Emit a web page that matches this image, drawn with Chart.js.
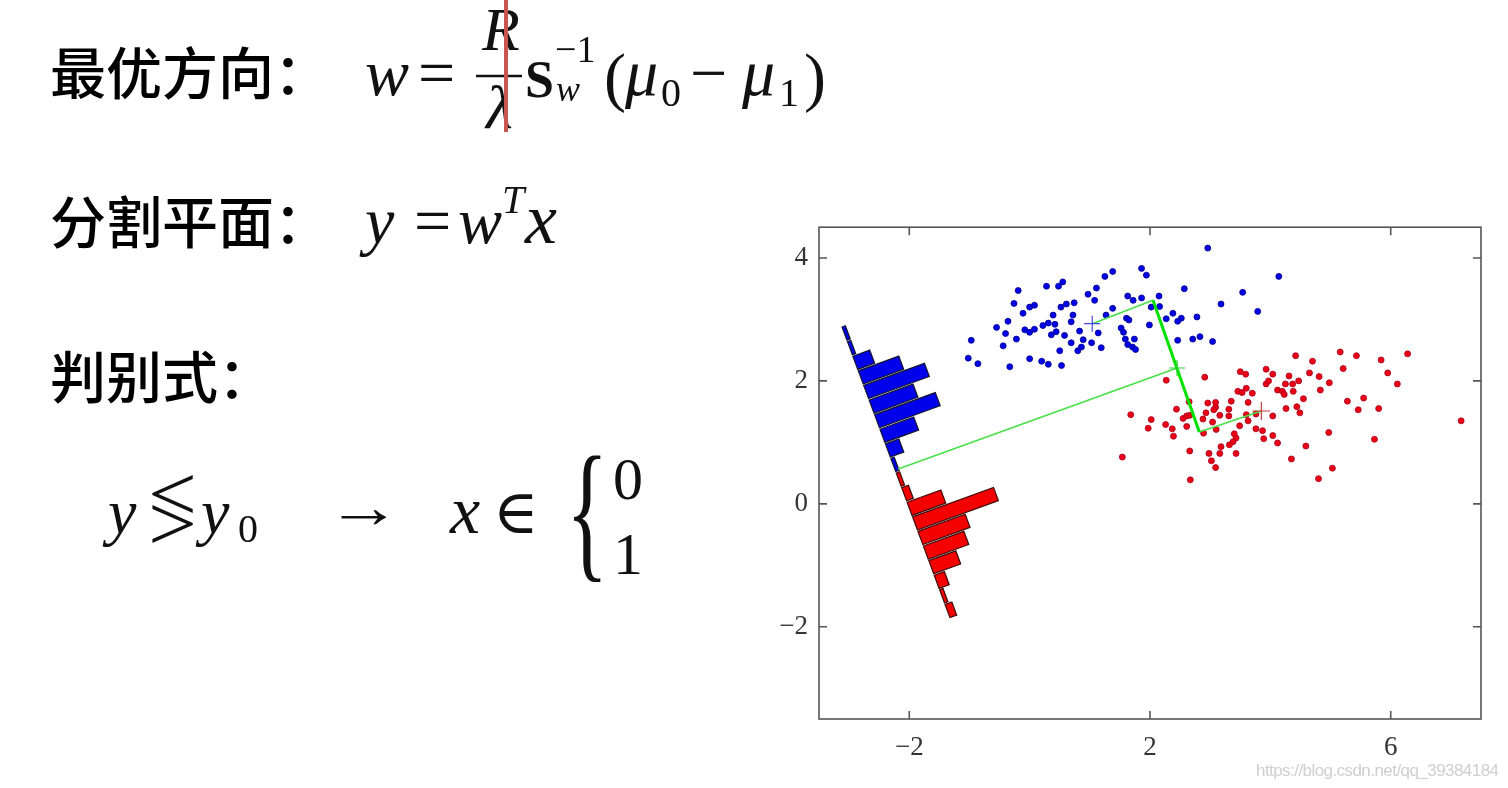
<!DOCTYPE html>
<html><head><meta charset="utf-8">
<script src="https://cdn.jsdelivr.net/npm/chart.js@4.4.0/dist/chart.umd.min.js"></script>
<style>
html,body{margin:0;padding:0;background:#fff;width:1508px;height:788px;overflow:hidden;}
#wrap{position:absolute;left:740px;top:200px;width:760px;height:588px;}
#txt{position:absolute;left:0;top:0;pointer-events:none;}
</style></head><body>
<div id="wrap"><canvas id="c" width="760" height="588"></canvas></div>
<svg id="txt" width="1508" height="788" xmlns="http://www.w3.org/2000/svg">
 <g font-family="'Noto Sans CJK SC'" font-size="56" font-weight="500" fill="#000">
  <text x="50" y="94">最优方向：</text>
  <text x="50" y="243">分割平面：</text>
  <text x="50" y="398">判别式：</text>
 </g>
 <g font-family="'Liberation Serif','DejaVu Serif',serif" fill="#111">
  <text x="365" y="95" font-size="66" font-style="italic">w</text>
  <text x="418" y="95" font-size="66">=</text>
  <text x="482" y="50" font-size="62" font-style="italic">R</text>
  <line x1="476" y1="76" x2="522" y2="76" stroke="#111" stroke-width="2.5"/>
  <text x="486" y="128" font-size="62" font-style="italic">λ</text>
  <rect x="504" y="0" width="4" height="132" fill="rgb(200,85,80)"/>
  <text x="525" y="97" font-size="52" font-weight="bold">S</text>
  <text x="555" y="62" font-size="38">−1</text>
  <text x="556" y="101" font-size="36" font-style="italic">w</text>
  <text x="604" y="99" font-size="66">(</text>
  <text x="625" y="95" font-size="66" font-style="italic">μ</text>
  <text x="661" y="106" font-size="40">0</text>
  <text x="690" y="95" font-size="66">−</text>
  <text x="742" y="95" font-size="66" font-style="italic">μ</text>
  <text x="779" y="106" font-size="40">1</text>
  <text x="804" y="99" font-size="66">)</text>

  <text x="365" y="243" font-size="66" font-style="italic">y</text>
  <text x="414" y="243" font-size="66">=</text>
  <text x="458" y="243" font-size="66" font-style="italic">w</text>
  <text x="502" y="213" font-size="40" font-style="italic">T</text>
  <text x="525" y="243" font-size="72" font-style="italic">x</text>

  <text x="108" y="533" font-size="64" font-style="italic">y</text>
  <text transform="translate(148,520) scale(1.4,1.25)" font-size="62">&lt;</text>
  <text transform="translate(148,550) scale(1.4,1.25)" font-size="62">&gt;</text>
  <text x="201" y="533" font-size="64" font-style="italic">y</text>
  <text x="238" y="542" font-size="40">0</text>
  <text transform="translate(326,527) scale(1.25,1)" font-size="60">→</text>
  <text x="450" y="533" font-size="68" font-style="italic">x</text>
  <text x="493" y="533" font-size="62">∈</text>
  <text transform="translate(566,562) scale(0.58,1)" font-size="152">{</text>
  <text x="613" y="499" font-size="60">0</text>
  <text x="613" y="574" font-size="60">1</text>
 </g>
 <text x="1256" y="776" font-family="'Liberation Sans',sans-serif" font-size="17" fill="#cfcfcf" textLength="243">https://blog.csdn.net/qq_39384184</text>
</svg>
<script>
// ---- axis ticks ----
const xTickValues = [-2, 2, 6];
const xTickLabels = ['−2', '2', '6'];
const yTickValues = [-2, 0, 2, 4];
const yTickLabels = ['−2', '0', '2', '4'];

// ---- class 0 (blue) samples ----
const blueX = [1.38,1.25,0.55,0.48,0.28,-0.19,1.11,0.97,1.08,1.63,-0.26,0.08,0.00,0.61,0.52,0.74,-0.11,0.39,0.72,1.27,
 1.38,-0.36,-0.55,-0.40,-0.08,0.00,0.08,0.22,0.31,0.42,0.69,0.36,0.44,0.58,0.83,1.14,-0.22,-0.97,-0.44,0.69,
 0.89,1.03,0.86,1.19,0.80,0.50,-1.02,-0.86,0.00,0.20,0.31,0.53,-0.33,
 2.96,1.86,1.94,4.14,2.57,3.54,1.72,1.86,2.15,2.02,2.16,3.18,3.79,2.38,2.27,2.52,2.46,2.78,1.61,1.65,
 1.99,1.52,1.56,1.59,1.74,1.63,1.71,1.76,2.46,2.71,2.83,3.04];
const blueY = [3.78,3.70,3.61,3.54,3.54,3.47,3.51,3.41,3.31,3.38,3.26,3.23,3.20,3.25,3.20,3.27,3.10,3.07,3.07,3.07,
 3.18,2.97,2.87,2.77,2.83,2.79,2.84,2.90,2.94,2.92,2.96,2.75,2.80,2.74,2.81,2.78,2.68,2.66,2.57,2.62,
 2.67,2.62,2.55,2.54,2.49,2.49,2.37,2.28,2.36,2.32,2.27,2.25,2.23,
 4.16,3.83,3.72,3.70,3.50,3.44,3.31,3.35,3.38,3.20,3.21,3.25,3.13,3.10,3.01,3.02,2.97,3.04,3.02,2.99,
 2.91,2.86,2.79,2.68,2.68,2.59,2.55,2.51,2.66,2.68,2.72,2.64];

// ---- class 1 (red) samples ----
const redX = [2.91,2.27,3.50,3.59,3.93,4.04,3.93,3.97,4.12,3.46,3.53,3.60,3.70,2.96,3.09,3.09,3.06,3.35,3.63,3.31,
 2.65,2.44,2.93,3.16,3.31,3.60,3.76,4.04,1.68,2.02,2.55,2.61,2.66,2.88,3.04,3.49,3.63,1.97,2.26,2.37,
 2.61,2.89,3.10,3.76,3.87,2.39,3.40,3.43,3.89,4.04,3.38,3.32,4.12,3.18,2.98,3.16,3.43,3.02,3.09,2.66,
 1.54,2.67,
 4.42,4.70,5.16,5.43,5.84,6.28,4.65,4.31,4.81,5.21,5.95,4.25,4.37,4.47,4.98,4.20,4.23,4.38,4.83,6.11,
 4.55,5.28,5.55,4.26,4.44,4.49,5.46,5.80,7.17,4.97,5.73,4.59,4.35,5.03,4.80];
const redY = [2.06,2.01,2.15,2.11,2.19,2.11,1.95,2.00,1.85,1.83,1.81,1.88,1.80,1.64,1.65,1.57,1.53,1.67,1.65,1.54,
 1.66,1.54,1.48,1.44,1.43,1.45,1.46,1.43,1.45,1.37,1.39,1.43,1.44,1.38,1.33,1.27,1.35,1.23,1.29,1.22,
 1.26,1.15,1.21,1.22,1.19,1.10,1.14,1.07,1.06,1.11,1.01,0.96,0.99,0.93,0.82,0.82,0.82,0.70,0.59,0.86,
 0.76,0.39,
 2.41,2.32,2.47,2.41,2.34,2.44,2.13,2.08,2.07,2.20,2.13,1.95,1.95,2.00,1.97,1.83,1.78,1.83,1.85,1.95,
 1.71,1.67,1.72,1.55,1.58,1.48,1.53,1.55,1.35,1.16,1.05,0.94,0.73,0.58,0.41];

// ---- class means, projection construction ----
const blueMean = [1.04, 2.93];
const redMean = [3.85, 1.51];
const midPoint = [2.45, 2.21];
const wLineStart = [2.05, 3.31];
const wLineEnd = [2.82, 1.17];
const histFoot = [-2.185, 0.5675];

// ---- projected histograms (counts per bin along projection axis) ----
const blueCounts = [1,1,5,12,18,13,18,10,4,1,0,0,0,0,0,0,0,0,0,0];
const redCounts  = [0,0,0,0,0,0,0,0,0,0,1,2,10,24,14,12,8,3,1,2];

// geometry of the projection axis (data units)
const HIST = {origin:[-3.114, 2.867], axis:[0.3548, -0.9350], normal:[0.9421, 0.3355],
  binStart:0.105, binWidth:0.254, barFrac:0.9, countUnit:0.0595};

const pt = a => ({x:a[0], y:a[1]});
const zip = (xs, ys) => xs.map((v,i)=>({x:v, y:ys[i]}));

const histPlugin = {
  id:'hist',
  beforeDatasetsDraw(chart){
    const {ctx, scales:{x, y}} = chart;
    const draw = (counts, fill, stroke) => {
      counts.forEach((c, i) => {
        if (!c) return;
        const s = HIST.binStart + HIST.binWidth*i;
        const hw = HIST.binWidth*HIST.barFrac/2;
        const L = c*HIST.countUnit;
        const pts = [[s-hw,0],[s+hw,0],[s+hw,L],[s-hw,L]].map(([a,b]) => {
          const dx = HIST.origin[0] + a*HIST.axis[0] + b*HIST.normal[0];
          const dy = HIST.origin[1] + a*HIST.axis[1] + b*HIST.normal[1];
          return [x.getPixelForValue(dx), y.getPixelForValue(dy)];
        });
        ctx.beginPath();
        ctx.moveTo(pts[0][0], pts[0][1]);
        for (let k=1;k<pts.length;k++) ctx.lineTo(pts[k][0], pts[k][1]);
        ctx.closePath();
        ctx.fillStyle = fill; ctx.fill();
        ctx.lineWidth = 1.2; ctx.strokeStyle = stroke; ctx.stroke();
      });
    };
    ctx.save();
    draw(blueCounts, 'rgb(0,0,235)', '#161630');
    draw(redCounts, 'rgb(245,0,0)', '#3e0a0a');
    ctx.restore();
  }
};

const framePlugin = {
  id:'frame',
  afterDraw(chart){
    const {ctx, chartArea:a, scales:{x, y}} = chart;
    ctx.save();
    ctx.strokeStyle = '#555'; ctx.lineWidth = 1.6;
    ctx.strokeRect(a.left, a.top, a.right-a.left, a.bottom-a.top);
    const T = 8;
    ctx.beginPath();
    xTickValues.forEach(v => { const p = x.getPixelForValue(v);
      ctx.moveTo(p, a.bottom); ctx.lineTo(p, a.bottom-T); ctx.moveTo(p, a.top); ctx.lineTo(p, a.top+T); });
    yTickValues.forEach(v => { const p = y.getPixelForValue(v);
      ctx.moveTo(a.left, p); ctx.lineTo(a.left+T, p); ctx.moveTo(a.right, p); ctx.lineTo(a.right-T, p); });
    ctx.stroke();
    ctx.restore();
  }
};

const lineDs = (a, b, color, w, order) => ({type:'scatter', data:[pt(a), pt(b)], showLine:true,
  borderColor:color, borderWidth:w, pointRadius:0, fill:false, order});
const crossDs = (p, color, r, order) => ({type:'scatter', data:[pt(p)], pointStyle:'cross',
  pointRadius:r, borderColor:color, backgroundColor:color, borderWidth:1.2, order});

new Chart(document.getElementById('c'), {
  type:'scatter',
  data:{datasets:[
    {data:zip(blueX, blueY), backgroundColor:'rgb(0,0,230)', borderColor:'rgb(0,0,140)', borderWidth:0.8, pointRadius:3, order:3},
    {data:zip(redX, redY), backgroundColor:'rgb(235,0,20)', borderColor:'rgb(165,0,30)', borderWidth:0.8, pointRadius:3, order:3},
    lineDs(wLineStart, wLineEnd, 'rgb(0,225,0)', 3, 1),
    lineDs(blueMean, wLineStart, 'rgb(70,225,70)', 1.6, 1),
    lineDs(wLineEnd, redMean, 'rgb(70,225,70)', 1.6, 1),
    lineDs(midPoint, histFoot, 'rgb(70,225,70)', 1.6, 1),
    crossDs(blueMean, 'rgb(70,70,225)', 8, 0),
    crossDs(redMean, 'rgb(200,60,60)', 9, 0),
    crossDs(midPoint, 'rgb(40,210,40)', 8, 0)
  ]},
  options:{
    responsive:false, animation:false, devicePixelRatio:1,
    layout:{padding:{top:23, right:19, left:0, bottom:0}},
    plugins:{legend:{display:false}, tooltip:{enabled:false}},
    scales:{
      x:{type:'linear', min:-3.5, max:7.5,
        afterBuildTicks:s => { s.ticks = xTickValues.map(v => ({value:v})); },
        afterFit:s => { s.height = 69; },
        grid:{display:false, drawTicks:false}, border:{display:false},
        ticks:{padding:13, color:'#333', maxRotation:0, font:{family:'Liberation Serif', size:27},
          callback:(v, i) => xTickLabels[i]}},
      y:{type:'linear', min:-3.5, max:4.5,
        afterBuildTicks:s => { s.ticks = yTickValues.map(v => ({value:v})); },
        afterFit:s => { s.width = 79; },
        grid:{display:false, drawTicks:false}, border:{display:false},
        ticks:{padding:11, color:'#333', font:{family:'Liberation Serif', size:27},
          callback:(v, i) => yTickLabels[i]}}
    }
  },
  plugins:[histPlugin, framePlugin]
});
</script>
</body></html>
